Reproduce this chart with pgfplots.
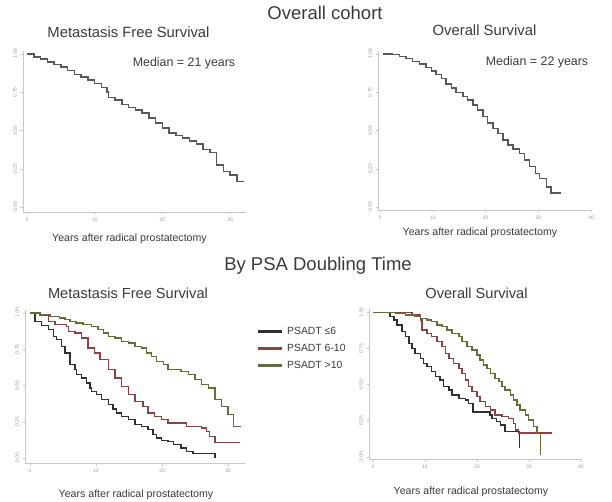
\documentclass[border=0pt]{standalone}
\usepackage{pgfplots}
\pgfplotsset{compat=1.18}
\usepackage{fontspec}
\setmainfont{Liberation Sans}
\definecolor{txt}{HTML}{3A3A3A}
\definecolor{kmgray}{HTML}{585858}
\definecolor{kmblack}{HTML}{303030}
\definecolor{kmred}{HTML}{8A4242}
\definecolor{kmgreen}{HTML}{6A6C38}
\pgfplotsset{
  km/.style={
    scale only axis,
    axis lines*=left,
    axis line style={draw=black!22, line width=0.5pt, -},
    tick style={draw=black!22, line width=0.4pt},
    tick align=outside,
    major tick length=2.5pt,
    ytick={0,0.25,0.5,0.75,1},
    yticklabels={0.00,0.25,0.50,0.75,1.00},
    yticklabel style={rotate=90, anchor=south, font=\fontsize{5}{6}\selectfont, text=black!40},
    xticklabel style={font=\fontsize{5}{6}\selectfont, text=black!40},
    /pgf/number format/assume math mode=true,
    clip=false,
  },
  kmline/.style={const plot, no marks, line width=1.45pt, line join=miter},
}
\begin{document}
\begin{tikzpicture}
\path[use as bounding box] (0pt,0pt) rectangle (612pt,-502pt);
% ---- titles
\node[text=txt, font=\fontsize{18.5}{20}\selectfont] at (325pt,-13pt) {Overall cohort};
\node[text=txt, font=\fontsize{18.5}{20}\selectfont] at (318pt,-266pt) {By PSA Doubling Time};
\node[text=txt, font=\fontsize{14.8}{16}\selectfont] at (128.5pt,-32pt) {Metastasis Free Survival};
\node[text=txt, font=\fontsize{14.8}{16}\selectfont] at (484.5pt,-30pt) {Overall Survival};
\node[text=txt, font=\fontsize{14.6}{16}\selectfont] at (128pt,-293pt) {Metastasis Free Survival};
\node[text=txt, font=\fontsize{14.6}{16}\selectfont] at (476.5pt,-293pt) {Overall Survival};
\node[text=txt, font=\fontsize{12.4}{14}\selectfont] at (184pt,-63pt) {Median = 21 years};
\node[text=txt, font=\fontsize{12.4}{14}\selectfont] at (537pt,-62pt) {Median = 22 years};
\node[text=txt, font=\fontsize{10.6}{12}\selectfont] at (129.5pt,-239pt) {Years after radical prostatectomy};
\node[text=txt, font=\fontsize{10.6}{12}\selectfont] at (480pt,-233pt) {Years after radical prostatectomy};
\node[text=txt, font=\fontsize{10.6}{12}\selectfont] at (136pt,-495pt) {Years after radical prostatectomy};
\node[text=txt, font=\fontsize{10.6}{12}\selectfont] at (471pt,-492pt) {Years after radical prostatectomy};

% ---- top left: MFS overall
\begin{axis}[km, at={(23pt,-212pt)}, anchor=south west,
  width=222.7pt, height=161.1pt,
  xmin=-0.6, xmax=32.3, ymin=-0.033, ymax=1.02,
  xtick={0,10,20,30}]
\addplot[kmline, kmgray] coordinates {(0,1) (1,0.98) (2,0.968) (3,0.946) (4,0.93) (5,0.914) (6,0.892) (7,0.867) (8,0.85) (9,0.83) (10,0.806) (11,0.78) (11.8,0.75) (12,0.716) (13,0.70) (14,0.67) (15,0.65) (16,0.634) (17,0.613) (18,0.58) (19,0.548) (20,0.516) (21,0.484) (22,0.466) (23,0.45) (24,0.43) (25,0.41) (26,0.376) (27,0.355) (28,0.274) (29,0.232) (30,0.21) (31,0.166) (32,0.166)};
\end{axis}

% ---- top right: OS overall
\begin{axis}[km, at={(378pt,-210pt)}, anchor=south west,
  width=214.3pt, height=159.1pt,
  xmin=-0.38, xmax=40.2, ymin=-0.0196, ymax=1.02,
  xtick={0,10,20,30,40}]
\addplot[kmline, kmgray] coordinates {(0.6,1.0) (1.5,0.999) (2.4,0.996) (3.7,0.985) (4.9,0.97) (6.2,0.952) (7.5,0.934) (8.7,0.912) (9.7,0.89) (10.6,0.864) (11.6,0.838) (12.5,0.805) (13.5,0.777) (14.4,0.748) (15.7,0.722) (16.6,0.70) (17.6,0.667) (18.5,0.635) (19.5,0.59) (20.4,0.55) (21.4,0.514) (22.3,0.48) (23.3,0.438) (24.2,0.405) (25.2,0.378) (26.4,0.35) (27.4,0.306) (28.3,0.263) (29.4,0.219) (30.2,0.186) (31.5,0.13) (32.4,0.092) (34.3,0.092)};
\end{axis}

% ---- bottom left: MFS by PSADT
\begin{axis}[km, at={(25pt,-463pt)}, anchor=south west,
  width=220.2pt, height=152.9pt,
  xmin=-0.76, xmax=32.6, ymin=-0.0345, ymax=1.02,
  xtick={0,10,20,30},
  legend style={at={(axis description cs:1.058,0.905)}, anchor=north west, draw=none, fill=none,
    inner sep=0pt, font=\fontsize{10.4}{12}\selectfont, text=txt, row sep=4.2pt,
    /tikz/every odd column/.append style={column sep=3pt}},
  legend cell align=left,
  legend image code/.code={\fill[#1, draw=none] (0pt,-1.5pt) rectangle (24pt,1.5pt);}]
\addplot[kmline, kmblack] coordinates {(0,1) (0.76,0.943) (1.77,0.913) (2.77,0.885) (3.53,0.839) (4.03,0.816) (4.79,0.770) (5.3,0.724) (6.05,0.644) (6.8,0.609) (7.06,0.575) (7.8,0.552) (8.57,0.517) (9.08,0.483) (9.33,0.46) (10.1,0.437) (10.84,0.402) (11.85,0.368) (12.6,0.338) (13.1,0.31) (13.87,0.287) (14.9,0.264) (15.9,0.23) (16.9,0.218) (17.9,0.195) (18.66,0.161) (19.16,0.138) (19.9,0.122) (20.9,0.115) (21.7,0.092) (22.9,0.069) (23.7,0.046) (24.7,0.03) (28,0.0)};
\addlegendentry{PSADT ≤6}
\addplot[kmline, kmred] coordinates {(0,1) (1.5,0.985) (2.77,0.943) (3.78,0.92) (5.5,0.908) (5.8,0.874) (6.8,0.862) (7.8,0.828) (8.8,0.759) (9.8,0.724) (10.6,0.678) (11.85,0.609) (12.9,0.552) (13.9,0.494) (14.9,0.437) (15.9,0.391) (17.1,0.356) (17.9,0.31) (18.9,0.287) (19.9,0.264) (20.9,0.241) (23.7,0.218) (26,0.207) (26.7,0.184) (27.2,0.149) (28,0.108) (31.8,0.108)};
\addlegendentry{PSADT 6-10}
\addplot[kmline, kmgreen] coordinates {(0,1) (1.5,0.989) (3,0.977) (4.5,0.966) (5.3,0.955) (6.05,0.943) (7,0.931) (8,0.92) (9.3,0.908) (10.3,0.885) (11.1,0.862) (11.85,0.839) (12.9,0.828) (13.9,0.805) (14.9,0.793) (15.9,0.77) (16.9,0.759) (17.65,0.724) (18.4,0.701) (19.2,0.667) (20.2,0.644) (20.9,0.609) (22.9,0.598) (24,0.575) (25,0.54) (26,0.506) (27,0.483) (28,0.402) (29,0.356) (30,0.299) (30.8,0.218) (32,0.218)};
\addlegendentry{PSADT >10}
\end{axis}

% ---- bottom right: OS by PSADT
\begin{axis}[km, at={(369pt,-459.3pt)}, anchor=south west,
  width=213pt, height=149.9pt,
  xmin=-0.77, xmax=40.2, ymin=-0.018, ymax=1.02,
  xtick={0,10,20,30,40}]
\addplot[kmline, kmblack] coordinates {(0,1) (3.3,0.97) (4,0.947) (4.6,0.912) (5.6,0.866) (6.2,0.831) (6.9,0.785) (7.5,0.75) (8.1,0.716) (9.1,0.681) (9.7,0.647) (10.4,0.624) (11.3,0.589) (12,0.554) (12.9,0.531) (13.6,0.485) (14.6,0.462) (15.2,0.427) (16.5,0.404) (17.8,0.393) (18.4,0.37) (19.2,0.31) (22.5,0.289) (22.9,0.266) (23.8,0.242) (24.5,0.219) (25.4,0.173) (28.2,0.06)};
\addplot[kmline, kmred] coordinates {(0,1) (7.5,0.98) (9.1,0.947) (9.4,0.878) (10.4,0.855) (11.3,0.831) (12.3,0.797) (13.3,0.762) (13.9,0.716) (14.6,0.681) (15.5,0.647) (16.5,0.612) (17.1,0.577) (17.8,0.531) (18.4,0.485) (19,0.45) (20,0.416) (20.6,0.381) (21.6,0.346) (22.6,0.323) (23.5,0.289) (24.8,0.277) (26.1,0.266) (27,0.231) (27.4,0.185) (28,0.165) (34.4,0.165)};
\addplot[kmline, kmgreen] coordinates {(0,1) (4.3,0.993) (6.2,0.98) (8.1,0.97) (9.1,0.958) (10.4,0.947) (11.3,0.935) (12.3,0.912) (13.3,0.9) (14.2,0.878) (15.2,0.855) (16.5,0.831) (17.1,0.797) (18.1,0.762) (19,0.739) (20,0.704) (20.6,0.67) (21.3,0.635) (21.9,0.612) (22.6,0.577) (23.5,0.543) (24.2,0.52) (24.8,0.485) (25.4,0.462) (26.4,0.427) (27,0.393) (27.7,0.358) (28.3,0.323) (29.3,0.289) (29.9,0.254) (30.9,0.208) (31.5,0.162) (32.2,0.012)};
\end{axis}
\end{tikzpicture}
\end{document}
